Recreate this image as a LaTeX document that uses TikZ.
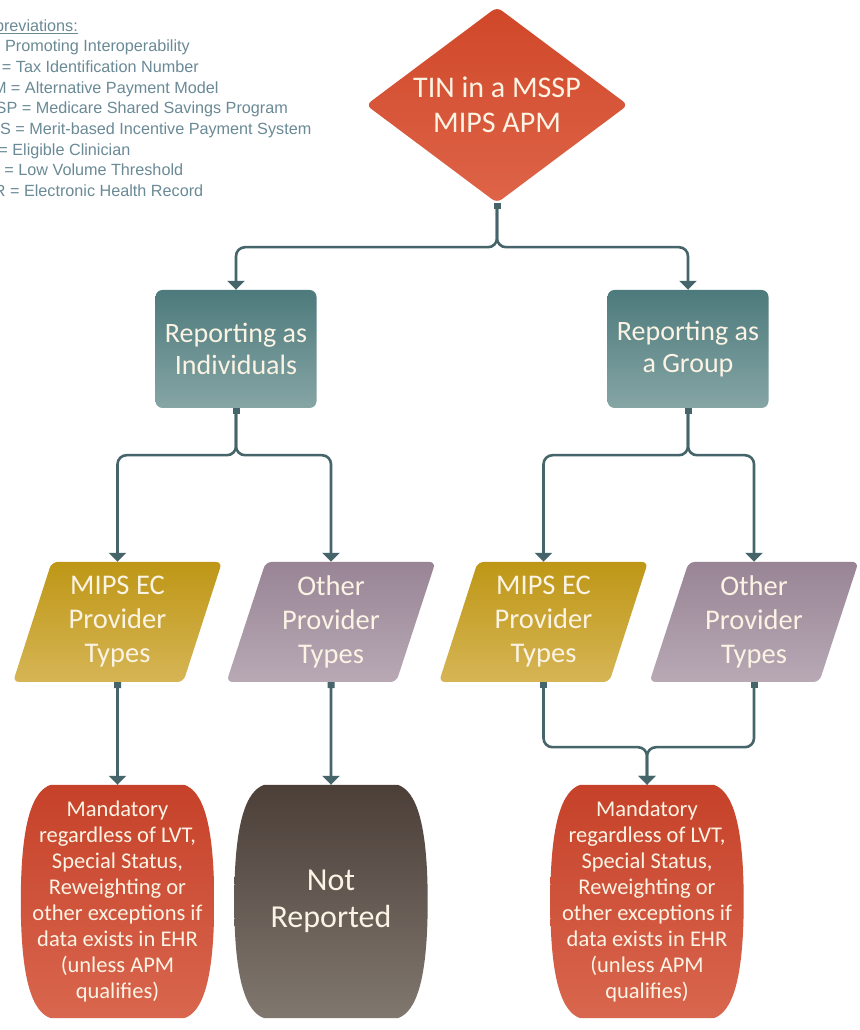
\documentclass[tikz,border=0pt]{standalone}
\usepackage{fontspec}
\setmainfont{Carlito}
\newfontfamily\abbrfont{Liberation Sans}
\usepackage{tikz}
\usetikzlibrary{shapes.geometric, arrows.meta, positioning, calc, backgrounds}

\definecolor{tinred}{HTML}{D04729}
\definecolor{tinredlt}{HTML}{DE6448}
\definecolor{tealbox}{HTML}{4D7A7C}
\definecolor{tealboxlt}{HTML}{86A5A5}
\definecolor{ecgold}{HTML}{BE9716}
\definecolor{ecgoldlt}{HTML}{D6B555}
\definecolor{othmauve}{HTML}{988495}
\definecolor{othmauvelt}{HTML}{B8A9B5}
\definecolor{mandred}{HTML}{C64129}
\definecolor{mandredlt}{HTML}{D9664E}
\definecolor{notbrown}{HTML}{4B3F38}
\definecolor{notbrownlt}{HTML}{80776F}
\definecolor{linkc}{HTML}{46656B}
\definecolor{cream}{HTML}{FBF3E4}
\definecolor{abbrc}{HTML}{6A8A96}

% barrel shaped fill behind a named node
\newcommand{\barrel}[3]{%
  \shade[top color=#2, bottom color=#3]
    ($(#1.north west)+(30,0)$) -- ($(#1.north east)+(-30,0)$)
    .. controls ($(#1.north east)+(-12,-6)$) and ($(#1.east)+(0,80)$) .. (#1.east)
    .. controls ($(#1.east)+(0,-80)$) and ($(#1.south east)+(-12,6)$) .. ($(#1.south east)+(-30,0)$)
    -- ($(#1.south west)+(30,0)$)
    .. controls ($(#1.south west)+(12,6)$) and ($(#1.west)+(0,-80)$) .. (#1.west)
    .. controls ($(#1.west)+(0,80)$) and ($(#1.north west)+(12,-6)$) .. cycle;}

\begin{document}
\begin{tikzpicture}[
	x=1pt, y=1pt,
	txt/.style={text=cream, align=center, inner sep=0pt},
	dia/.style={txt, diamond, aspect=1.34, minimum width=262pt, minimum height=196pt, rounded corners=6pt, top color=tinred, bottom color=tinredlt, font=\fontsize{30}{35}\selectfont},
	box/.style={txt, rectangle, rounded corners=7pt, minimum width=161pt, minimum height=118pt, top color=tealbox, bottom color=tealboxlt, font=\fontsize{28}{32}\selectfont},
	para/.style={txt, trapezium, trapezium left angle=67, trapezium right angle=113, trapezium stretches body=true, minimum width=209pt, minimum height=120pt, rounded corners=6pt, font=\fontsize{28.5}{34}\selectfont},
	ec/.style={para, top color=ecgold, bottom color=ecgoldlt},
	oth/.style={para, top color=othmauve, bottom color=othmauvelt},
	note/.style={txt, rectangle, minimum width=193pt, minimum height=233pt, font=\fontsize{22.5}{26}\selectfont},
	link/.style={draw=linkc, line width=2.6pt, rounded corners=9pt, {Square[length=6pt,width=7pt]}-{Triangle[width=17pt,length=9pt]}},
	abbr/.style={anchor=base west, inner sep=0pt, text=abbrc, font=\abbrfont\fontsize{16.2}{20}\selectfont}
]
\useasboundingbox (0,0) rectangle (859,1030);
\clip (0,0) rectangle (859,1030);

% Abbreviations
\node[abbr] (abbr-0) at (-25,998) {\underline{Abbreviations:}};
\foreach \i/\t in {1/{PI = Promoting Interoperability},
	2/{TIN = Tax Identification Number},
	3/{APM = Alternative Payment Model},
	4/{MSSP = Medicare Shared Savings Program},
	5/{MIPS = Merit-based Incentive Payment System},
	6/{EC = Eligible Clinician},
	7/{LVT = Low Volume Threshold},
	8/{EHR = Electronic Health Record}}
	\node[abbr] (abbr-\i) at (-28.8,{999-20.7*\i}) {\t};

% Nodes
\node[dia] (tin) at (497,925) {TIN in a MSSP\\MIPS APM};
\node[box] (indiv) at (236,681) {Reporting as\\Individuals};
\node[box] (grp) at (688,681) {Reporting as\\a Group};
\node[ec] (indmips) at (117.5,408) {MIPS EC\\Provider\\Types};
\node[oth] (indoth) at (331,408) {Other\\Provider\\Types};
\node[ec] (grpmips) at (543.5,408) {MIPS EC\\Provider\\Types};
\node[oth] (grpoth) at (754,408) {Other\\Provider\\Types};
\node[note] (indout) at (117.5,128.5) {Mandatory\\regardless of LVT,\\Special Status,\\Reweighting or\\other exceptions if\\data exists in EHR\\(unless APM\\qualifies)};
\node[note, font=\fontsize{32}{37}\selectfont] (notrep) at (331,128.5) {Not\\Reported};
\node[note] (grpout) at (647,128.5) {Mandatory\\regardless of LVT,\\Special Status,\\Reweighting or\\other exceptions if\\data exists in EHR\\(unless APM\\qualifies)};

\begin{scope}[on background layer]
\fill[white] (0,0) rectangle (859,1030);
\barrel{indout}{mandred}{mandredlt}
\barrel{notrep}{notbrown}{notbrownlt}
\barrel{grpout}{mandred}{mandredlt}
\end{scope}

% Edges
\draw[link] (tin.south) -- ++(0,-44) -| (indiv);
\draw[link] (tin.south) -- ++(0,-44) -| (grp);
\draw[link] (indiv.south) -- ++(0,-47) -| (indmips);
\draw[link] (indiv.south) -- ++(0,-47) -| (indoth);
\draw[link] (grp.south) -- ++(0,-47) -| (grpmips);
\draw[link] (grp.south) -- ++(0,-47) -| (grpoth);
\draw[link] (indmips.south) -- (indout.north);
\draw[link] (indoth.south) -- (notrep.north);
\draw[link] (grpmips.south) -- ++(0,-65) -| (grpout);
\draw[link] (grpoth.south) -- ++(0,-65) -| (grpout);

\end{tikzpicture}
\end{document}
